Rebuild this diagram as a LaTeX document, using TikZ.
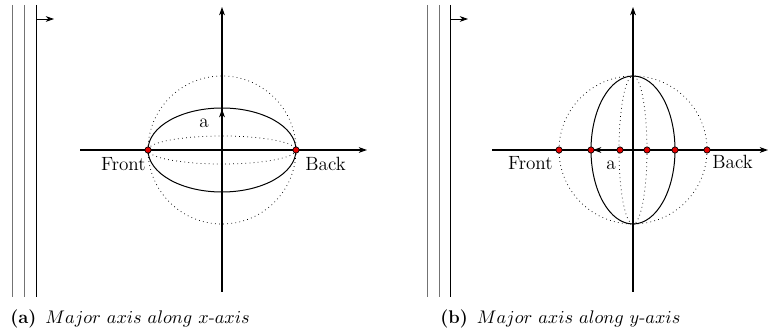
\documentclass[tikz,border=0pt]{standalone}
\usepackage{tikz}
\usetikzlibrary{arrows.meta,positioning,calc}
\definecolor{ptrouge}{RGB}{230,0,0}

\begin{document}
\begin{tikzpicture}[x=0.6pt, y=-0.6pt,
  axe/.style={-{Stealth[length=5pt,width=3.5pt]}, line width=0.8pt},
  bord/.style={line width=0.45pt},
  pt/.style={circle, draw=black, fill=ptrouge, inner sep=0pt, minimum size=3.8pt, line width=0.4pt},
  lbl/.style={font=\fontsize{11.5}{13}\selectfont, inner sep=0pt},
  legende/.style={anchor=west, font=\fontsize{11}{13}\selectfont, inner sep=0pt}
]
  \useasboundingbox (0,0) rectangle (769,334);

  % (a) major axis along x
  \draw[bord, black!55] (12,5) -- (12,297);
  \draw[bord, black!55] (24,5) -- (24,297);
  \draw[bord] (36,5) -- (36,297);
  \coordinate (ab) at (36,19);
  \coordinate (ae) at (54,19);
  \draw[axe, line width=0.5pt] (ab) -- (ae);

  \coordinate (aO) at (222,150);
  \coordinate (ay0) at (222,292);
  \coordinate (ay1) at (222,7);
  \coordinate (ax0) at (80,150);
  \coordinate (ax1) at (367,150);
  \draw[axe] (ay0) -- (ay1);
  \draw[axe] (ax0) -- (ax1);
  \draw[axe] (aO) -- (222,109);
  \draw[dotted, bord] (aO) circle [x radius=74, y radius=74];
  \draw[line width=0.6pt] (aO) ellipse [x radius=74, y radius=42];
  \draw[dotted, bord] (aO) ellipse [x radius=74, y radius=14];
  \node[pt] (afront) at (148,150) {};
  \node[pt] (aback)  at (296,150) {};
  \node[lbl] (aa) at (204,123) {a};
  \node[lbl, anchor=east] (afl) at (146,164) {Front};
  \node[lbl, anchor=west] (abl) at (305,164) {Back};

  % (b) major axis along y
  \draw[bord, black!55] (427,5) -- (427,297);
  \draw[bord, black!55] (439,5) -- (439,297);
  \draw[bord] (450,5) -- (450,297);
  \coordinate (bb) at (450,19);
  \coordinate (be) at (468,19);
  \draw[axe, line width=0.5pt] (bb) -- (be);

  \coordinate (bO) at (633,150);
  \coordinate (by0) at (633,292);
  \coordinate (by1) at (633,7);
  \coordinate (bx0) at (492,150);
  \coordinate (bx1) at (768,150);
  \draw[axe] (by0) -- (by1);
  \draw[axe] (bx0) -- (bx1);
  \draw[dotted, bord] (bO) circle [x radius=74, y radius=74];
  \draw[line width=0.6pt] (bO) ellipse [x radius=42, y radius=74];
  \draw[dotted, bord] (bO) ellipse [x radius=14, y radius=74];
  \draw[axe] (bO) -- (593,150);
  \foreach \px/\nm in {559/b1, 591/b2, 620/b3, 647/b4, 675/b5, 707/b6}
    \node[pt] (\nm) at (\px,150) {};
  \node[lbl] (ba) at (611,165) {a};
  \node[lbl, anchor=east] (bfl) at (553,163) {Front};
  \node[lbl, anchor=west] (bbl) at (712,162) {Back};

  % captions
  \node[legende] (capa) at (10,319) {\textbf{(a)}\, $Major\ axis\ along\ x$-$axis$};
  \node[legende] (capb) at (440,319) {\textbf{(b)}\, $Major\ axis\ along\ y$-$axis$};
\end{tikzpicture}
\end{document}
